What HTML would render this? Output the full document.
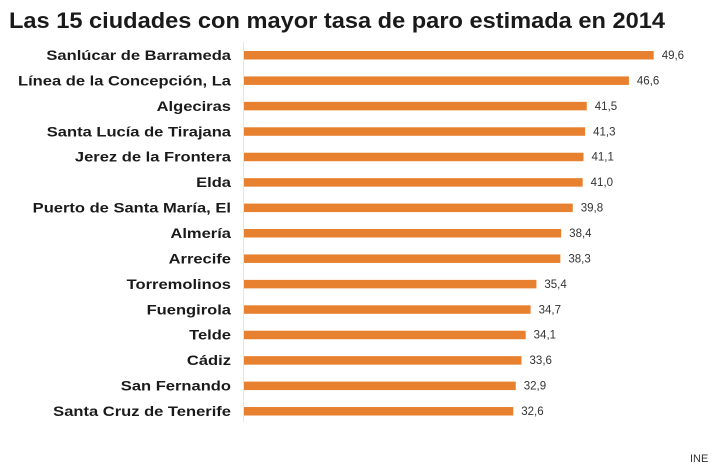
<!DOCTYPE html>
<html><head><meta charset="utf-8"><style>
body{margin:0;background:#fff;width:720px;height:469px;overflow:hidden;font-family:"Liberation Sans",sans-serif;}
</style></head><body>
<svg id="sv" width="720" height="469" xmlns="http://www.w3.org/2000/svg" font-family="Liberation Sans, sans-serif">
<text x="9" y="28" font-size="22.5" font-weight="bold" fill="#1a1a1a" textLength="656" lengthAdjust="spacingAndGlyphs">Las 15 ciudades con mayor tasa de paro estimada en 2014</text>
<line x1="243.5" y1="42" x2="243.5" y2="422" stroke="#e6e6e6" stroke-width="1"/>
<g id="rows"></g>
<text x="690" y="462" font-size="11" fill="#333">INE</text>
</svg>
<script>
var d=[["Sanlúcar de Barrameda",49.6],["Línea de la Concepción, La",46.6],["Algeciras",41.5],["Santa Lucía de Tirajana",41.3],["Jerez de la Frontera",41.1],["Elda",41.0],["Puerto de Santa María, El",39.8],["Almería",38.4],["Arrecife",38.3],["Torremolinos",35.4],["Fuengirola",34.7],["Telde",34.1],["Cádiz",33.6],["San Fernando",32.9],["Santa Cruz de Tenerife",32.6]];
var g=document.getElementById("rows"),s="";
d.forEach(function(r,i){var c=55+i*25.43,w=r[1]*8.26;
s+='<text class="lb" x="231" y="'+(c+5)+'" text-anchor="end" font-size="14" font-weight="bold" fill="#1a1a1a">'+r[0]+'</text>';
s+='<rect x="244" y="'+(c-4)+'" width="'+w+'" height="8.5" fill="#e8812f"/>';
s+='<text x="'+(244+w+8)+'" y="'+(c+4)+'" font-size="11.5" fill="#333">'+r[1].toFixed(1).replace(".",",")+'</text>';});
g.innerHTML=s;
var ls=document.querySelectorAll(".lb");
for(var k=0;k<ls.length;k++){var n=ls[k].getComputedTextLength();ls[k].setAttribute("textLength",(n*1.18).toFixed(1));ls[k].setAttribute("lengthAdjust","spacingAndGlyphs");}
</script>
</body></html>
